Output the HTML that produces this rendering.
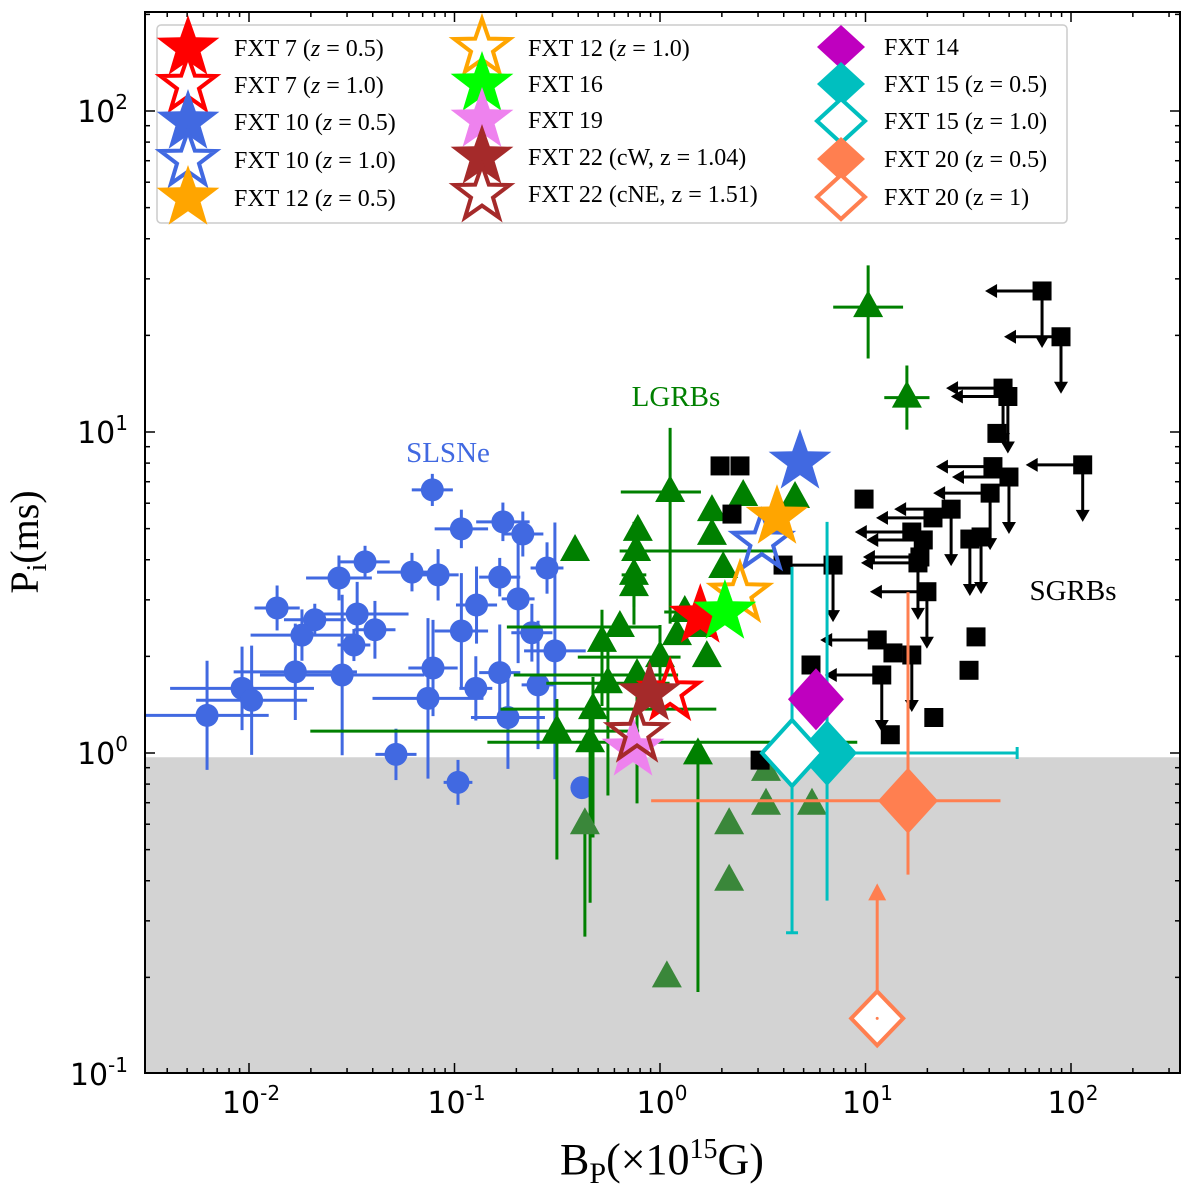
<!DOCTYPE html>
<html><head><meta charset="utf-8"><style>
body{margin:0;background:#fff}
svg{display:block}
.tk{font-family:"DejaVu Sans","Liberation Sans",sans-serif;font-size:30px}
.sp{font-size:20px}
.lg{font-family:"Liberation Serif",serif;font-size:24px}
</style></head><body>
<svg id="chart" width="1200" height="1191" viewBox="0 0 1200 1191" xmlns="http://www.w3.org/2000/svg">
<rect x="0" y="0" width="1200" height="1191" fill="#fff"/>
<g id="plot"></g>
</svg>
<script>
// ---- SLSNe ----
const slB=[0.078,0.108,0.172,0.215,0.0367,0.0274,0.0621,0.0832,0.166,0.282,0.0137,0.0336,0.0209,0.0181,0.041,0.0324,0.128,0.204,0.108,0.238,0.308,0.0168,0.0284,0.0786,0.166,0.00925,0.0103,0.00625,0.0743,0.127,0.255,0.182,0.0519,0.104,0.417];
const slP=[6.6,4.99,5.25,4.81,3.94,3.51,3.66,3.59,3.53,3.77,2.83,2.71,2.60,2.33,2.42,2.17,2.89,3.02,2.40,2.37,2.08,1.79,1.75,1.84,1.78,1.59,1.46,1.31,1.48,1.59,1.63,1.29,0.99,0.81,0.78];
const slXe=[0.1,0.13,0.13,0.1,0.12,0.16,0.17,0.1,0.1,0.08,0.11,0.25,0.15,0.25,0.1,0.08,0.1,0.08,0.13,0.1,0.15,0.3,0.4,0.12,0.1,0.35,0.27,0.3,0.27,0.08,0.08,0.18,0.1,0.07,0.05];
const slYe=[0.05,0.06,0.06,0.07,0.05,0.07,0.06,0.08,0.06,0.08,0.07,0.1,0.05,0.08,0.09,0.05,0.12,0.2,0.18,0.09,0.4,0.15,0.25,0.15,0.15,0.13,0.17,0.17,0.25,0.1,0.2,0.16,0.08,0.07,0.03];
// ---- LGRBs ----
const lgB=[10.3,15.9,1.12,0.386,0.78,0.765,0.747,0.747,1.79,2.54,4.54,1.79,2.03,1.32,1.21,1.62,1.69,0.638,0.522,1.0,0.773,0.558,0.472,0.315,0.457,1.53,0.431,3.28,3.28,5.49,2.17,2.17,1.08];
const lgP=[24.5,12.8,6.5,4.26,4.92,4.26,3.59,3.31,5.67,6.32,6.23,4.78,3.77,2.75,2.33,2.47,1.99,2.47,2.22,1.99,1.75,1.65,1.37,1.17,1.08,0.99,0.60,0.88,0.69,0.69,0.60,0.40,0.20];
const lgXlo=[.17,.11,.24,0,0,.08,.06,0,0,0,0,0,0,.1,0,0,0,.55,0,.4,.6,.3,.45,1.2,.5,0,0,0,0,0,0,0,0];
const lgXhi=[.17,.11,.15,0,0,.68,.06,0,0,0,0,0,0,.1,0,0,0,.2,0,.1,.2,.3,.6,.4,1.3,0,0,0,0,0,0,0,0];
const lgYlo=[.16,.1,.41,0,0,0,.1,.12,0,0,0,0,0,0,0,0,0,0,.2,.1,.4,.35,.4,.4,.5,.74,.35,0,0,0,0,0,0];
const lgYhi=[.13,.1,.2,0,0,0,.1,.2,0,0,0,0,0,0,0,0,0,0,.1,.1,0,.1,.1,.1,.1,0,0,0,0,0,0,0,0];
// ---- SGRBs ----
const sgB=[72.3,89.4,46.7,49.3,43.6,114,41.7,49.9,40.4,26.1,21.3,9.84,16.8,19.1,32.2,36.5,18.4,18.0,19.9,34.5,31.9,11.4,13.6,16.8,12.0,5.43,21.5,13.2,3.97,6.95,1.96,2.45,2.24,3.07];
const sgP=[27.5,19.8,13.7,12.9,9.9,7.9,7.8,7.24,6.45,5.75,5.4,6.18,4.88,4.61,4.64,4.71,4.08,3.91,3.18,2.30,1.81,2.25,2.05,2.02,1.75,1.88,1.29,1.14,3.85,3.85,7.84,7.84,5.55,0.95];
const sgUlB=[1,1,1,1,0,1,1,1,1,1,1,0,1,1,0,0,1,1,1,0,0,1,0,0,1,0,0,0,0,1,0,0,0,0];
const sgUlP=[1,1,1,1,0,1,0,1,1,1,0,0,0,0,1,1,0,1,1,0,0,0,0,1,1,0,0,0,0,1,0,0,0,0];
// ---- FXTs ----
const fxNames=["FXT 7 (z=0.5)","FXT 7 (z=1.0)","FXT 10 (z=0.5)","FXT 10 (z=1.0)","FXT 12 (z=0.5)","FXT 12 (z=1.0)","FXT 16","FXT 19","FXT 22 (cW)","FXT 22 (cNE)"];
const fxB=[1.57,1.12,4.8,3.13,3.71,2.45,2.07,0.739,0.89,0.773];
const fxP=[2.67,1.55,8.07,4.54,5.43,3.13,2.75,1.03,1.53,1.15];
const fxCol=["#ff0000","#ff0000","#4169e1","#4169e1","#ffa500","#ffa500","#00ff00","#ee82ee","#a52a2a","#a52a2a"];
const fxFilled=[1,0,1,0,1,0,1,1,1,0];
const dmNames=["FXT 14","FXT 15 (z=0.5)","FXT 15 (z=1.0)","FXT 20 (z=0.5)","FXT 20 (z=1)"];
const dmB=[5.74,6.5,4.39,16.1,11.4];
const dmP=[1.47,1.0,1.0,0.71,0.149];
const dmXlo=[0.05,0,0,1.25,0];
const dmXhi=[0.05,0.925,0,0.45,0];
const dmYlo=[0.03,0.46,0.56,0.23,0];
const dmYhi=[0.03,0.72,0.58,0.65,0];
const dmCol=["#bf00bf","#00bfbf","#00bfbf","#ff7f50","#ff7f50"];
const dmFilled=[1,1,0,1,0];
const xTicks=[-2,-1,0,1,2];
const yTicks=[-1,0,1,2];
const pCut=0.97;

const NS="http://www.w3.org/2000/svg";
const L=145,R=1180,T=12,B=1073;
function X(b){return 660+205.5*Math.log10(b);}
function Y(p){return 753-321*Math.log10(p);}
const g=document.getElementById('plot');
function mk(tag,at,par){const e=document.createElementNS(NS,tag);for(const k in at)e.setAttribute(k,at[k]);(par||g).appendChild(e);return e;}
function starPts(cx,cy,r){let s=[];for(let i=0;i<10;i++){const rr=i%2?r*0.4:r;const a=-Math.PI/2+i*Math.PI/5;s.push((cx+rr*Math.cos(a)).toFixed(1)+","+(cy+rr*Math.sin(a)).toFixed(1));}return s.join(" ");}
function dmPts(cx,cy,w,h){return `${cx},${cy-h} ${cx+w},${cy} ${cx},${cy+h} ${cx-w},${cy}`;}

const shade=mk('rect',{x:L,y:Y(pCut),width:R-L,height:B-Y(pCut),fill:'#d3d3d3'});



for(let i=0;i<slB.length;i++){
  const x=X(slB[i]),y=Y(slP[i]);
  const eg=mk('g',{stroke:'#4169e1','stroke-width':3});
  
  
  mk('line',{x1:X(slB[i]/Math.pow(10,slXe[i])),x2:X(slB[i]*Math.pow(10,slXe[i])),y1:y,y2:y},eg);
  mk('line',{x1:x,x2:x,y1:Y(slP[i]/Math.pow(10,slYe[i])),y2:Y(slP[i]*Math.pow(10,slYe[i]))},eg);
}
for(let i=0;i<slB.length;i++){
  const c=mk('circle',{cx:X(slB[i]),cy:Y(slP[i]),r:11.5,fill:'#4169e1'});
  
  
}
for(let i=0;i<lgB.length;i++){
  const x=X(lgB[i]),y=Y(lgP[i]);
  const eg=mk('g',{stroke:'#008000','stroke-width':3});
  
  
  if(lgXlo[i]+lgXhi[i]>0)mk('line',{x1:X(lgB[i]/Math.pow(10,lgXlo[i])),x2:X(lgB[i]*Math.pow(10,lgXhi[i])),y1:y,y2:y},eg);
  if(lgYlo[i]+lgYhi[i]>0)mk('line',{x1:x,x2:x,y1:Y(lgP[i]/Math.pow(10,lgYlo[i])),y2:Y(lgP[i]*Math.pow(10,lgYhi[i]))},eg);
}
for(let i=0;i<lgB.length;i++){
  const x=X(lgB[i]),y=Y(lgP[i]);
  const t=mk('polygon',{points:`${x},${y-17} ${x+15},${y+10} ${x-15},${y+10}`,fill:lgP[i]<pCut?'#3a873a':'#008000'});
  
  
}
for(let i=0;i<sgB.length;i++){
  const x=X(sgB[i]),y=Y(sgP[i]);
  const eg=mk('g',{stroke:'#000','stroke-width':3,fill:'#000'});
  
  
  if(sgUlB[i]){mk('line',{x1:x,x2:x-50,y1:y,y2:y},eg);mk('polygon',{points:`${x-57},${y} ${x-45},${y-7} ${x-45},${y+7}`,stroke:'none'},eg);}
  if(sgUlP[i]){mk('line',{x1:x,x2:x,y1:y,y2:y+50},eg);mk('polygon',{points:`${x},${y+57} ${x-7},${y+45} ${x+7},${y+45}`,stroke:'none'},eg);}
}
for(let i=0;i<sgB.length;i++){
  const s=mk('rect',{x:X(sgB[i])-9.5,y:Y(sgP[i])-9.5,width:19,height:19,fill:'#000'});
  
  
}
for(let i=0;i<dmB.length;i++){
  const x=X(dmB[i]),y=Y(dmP[i]);
  const eg=mk('g',{stroke:dmCol[i],'stroke-width':3});
  
  
  if(dmXlo[i]+dmXhi[i]>0){const x2=X(dmB[i]*Math.pow(10,dmXhi[i]));mk('line',{x1:X(dmB[i]/Math.pow(10,dmXlo[i])),x2:x2,y1:y,y2:y},eg);if(i==1)mk('line',{x1:x2,x2:x2,y1:y-6,y2:y+6},eg);}
  if(dmYlo[i]+dmYhi[i]>0){const y1=Y(dmP[i]/Math.pow(10,dmYlo[i]));mk('line',{x1:x,x2:x,y1:y1,y2:Y(dmP[i]*Math.pow(10,dmYhi[i]))},eg);if(i==2)mk('line',{x1:x-6,x2:x+6,y1:y1,y2:y1},eg);}
  if(i==4){mk('line',{x1:x,x2:x,y1:y-27,y2:y-125},eg);mk('polygon',{points:`${x},${y-135} ${x-9},${y-118} ${x+9},${y-118}`,fill:dmCol[i],stroke:'none'},eg);}
}
for(let i=0;i<dmB.length;i++){
  const x=X(dmB[i]),y=Y(dmP[i]);
  const w=i==0?28:(i==4?26:30),h=i==0?31:(i==4?27:33);
  const d=mk('polygon',{points:dmPts(x,y,w,h),fill:dmFilled[i]?dmCol[i]:'#fff',stroke:dmCol[i],'stroke-width':dmFilled[i]?0:4});
  
  
  if(i==4)mk('circle',{cx:x,cy:y,r:1.5,fill:dmCol[i]});
}
for(let i=0;i<fxB.length;i++){
  const s=mk('polygon',{points:starPts(X(fxB[i]),Y(fxP[i]),fxFilled[i]?33:30),fill:fxFilled[i]?fxCol[i]:'#fff','fill-opacity':fxFilled[i]?1:0,stroke:fxCol[i],'stroke-width':fxFilled[i]?0:4,'stroke-linejoin':'miter'});
  
  
}
const ax=mk('g',{stroke:'#000','stroke-width':1.5});


const lx=Math.log10(0.00312),hx=Math.log10(340);
for(let d=-3;d<=2;d++){for(let m=1;m<10;m++){const v=m*Math.pow(10,d);const lv=Math.log10(v);if(lv<lx||lv>hx)continue;const x=X(v);const len=m==1?10:5;
  mk('line',{x1:x,x2:x,y1:B,y2:B-len},ax);mk('line',{x1:x,x2:x,y1:T,y2:T+len},ax);}}
for(let d=-1;d<=2;d++){for(let m=1;m<10;m++){const v=m*Math.pow(10,d);const y=Y(v);if(y<T||y>B)continue;const len=m==1?10:5;
  mk('line',{x1:L,x2:L+len,y1:y,y2:y},ax);mk('line',{x1:R,x2:R-len,y1:y,y2:y},ax);}}
const fr=mk('rect',{x:L,y:T,width:R-L,height:B-T,fill:'none',stroke:'#000','stroke-width':2});


for(const t of xTicks){
  const tx=mk('text',{x:X(Math.pow(10,t))+2,y:1113,'text-anchor':'middle',class:'tk'});
  
  
  tx.innerHTML=`10<tspan class="sp" dy="-13">${t}</tspan>`;
}
for(const t of yTicks){
  const tx=mk('text',{x:128,y:Y(Math.pow(10,t))+11,'text-anchor':'end',class:'tk'});
  
  
  tx.innerHTML=`10<tspan class="sp" dy="-13">${t}</tspan>`;
}
const xt=mk('text',{x:662,y:1174,'text-anchor':'middle','font-family':'Liberation Serif, serif','font-size':44});


xt.innerHTML='B<tspan font-size="30" dy="9">P</tspan><tspan dy="-9">(×10</tspan><tspan font-size="28" dy="-16">15</tspan><tspan dy="16">G)</tspan>';
const yt=mk('text',{x:0,y:0,'text-anchor':'middle','font-family':'Liberation Serif, serif','font-size':40,transform:'translate(38,542) rotate(-90)'});


yt.innerHTML='P<tspan font-size="28" dy="8">i</tspan><tspan dy="-8">(ms)</tspan>';
const an=[["SLSNe",448,462,"#4169e1","slsne-label"],["LGRBs",676,406,"#008000","lgrbs-label"],["SGRBs",1073,600,"#000","sgrbs-label"]];
for(const a of an){const t=mk('text',{x:a[1],y:a[2],'text-anchor':'middle','font-family':'Liberation Serif, serif','font-size':29,fill:a[3]});t.textContent=a[0];}
const lg=mk('g',{});


mk('rect',{x:157,y:25,width:910,height:198,rx:4,fill:'#fff','fill-opacity':0.85,stroke:'#ccc','stroke-width':1.5},lg);
const legStarRows=[[0,188,48,'FXT 7 (<tspan font-style="italic">z</tspan> = 0.5)'],[1,188,85,'FXT 7 (<tspan font-style="italic">z</tspan> = 1.0)'],[2,188,122,'FXT 10 (<tspan font-style="italic">z</tspan> = 0.5)'],[3,188,160,'FXT 10 (<tspan font-style="italic">z</tspan> = 1.0)'],[4,188,198,'FXT 12 (<tspan font-style="italic">z</tspan> = 0.5)'],
 [5,482,48,'FXT 12 (<tspan font-style="italic">z</tspan> = 1.0)'],[6,482,84,'FXT 16'],[7,482,120,'FXT 19'],[8,482,157,'FXT 22 (cW, z = 1.04)'],[9,482,194,'FXT 22 (cNE, z = 1.51)']];
for(const r of legStarRows){
  const s=mk('polygon',{points:starPts(r[1],r[2],fxFilled[r[0]]?33:29),fill:fxFilled[r[0]]?fxCol[r[0]]:'#fff',stroke:fxCol[r[0]],'stroke-width':fxFilled[r[0]]?0:4},lg);
  
  
  const t=mk('text',{x:r[1]+46,y:r[2]+8,class:'lg'},lg);
  
  
  t.innerHTML=r[3];
}
const legDm=[[0,47,'FXT 14'],[1,84,'FXT 15 (z = 0.5)'],[2,121,'FXT 15 (z = 1.0)'],[3,159,'FXT 20 (z = 0.5)'],[4,197,'FXT 20 (z = 1)']];
for(const r of legDm){
  const d=mk('polygon',{points:dmPts(841,r[1],24,22),fill:dmFilled[r[0]]?dmCol[r[0]]:'#fff',stroke:dmCol[r[0]],'stroke-width':dmFilled[r[0]]?0:4},lg);
  
  
  const t=mk('text',{x:884,y:r[1]+8,class:'lg'},lg);
  
  
  t.textContent=r[2];
}
</script>
</body></html>
